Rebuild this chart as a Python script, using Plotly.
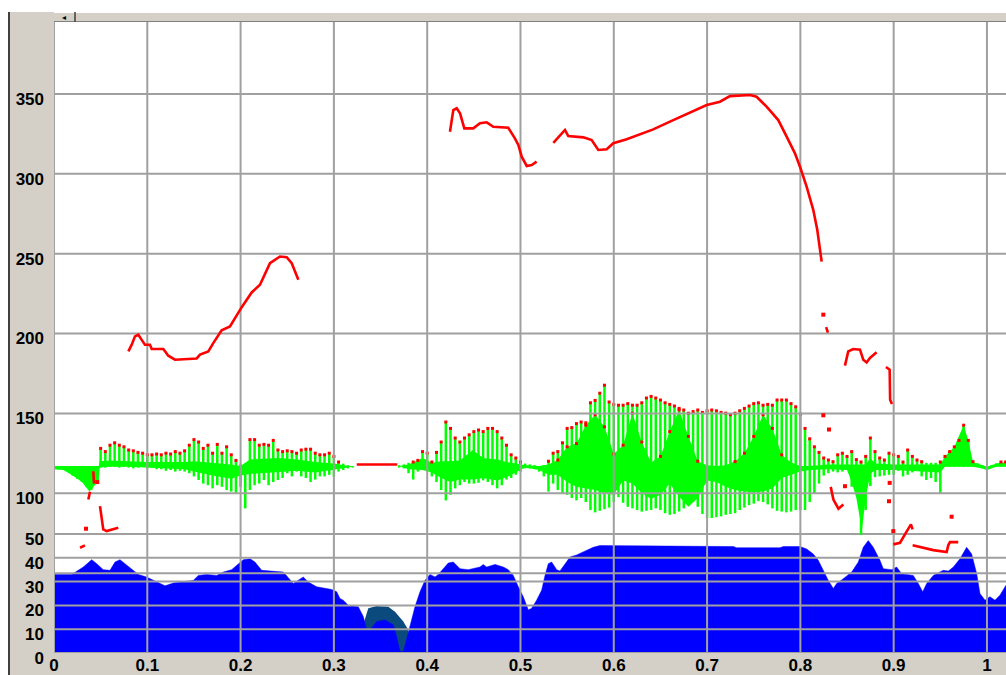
import plotly.graph_objects as go

# ---------------- data ----------------
x_ticks = [0, 0.1, 0.2, 0.3, 0.4, 0.5, 0.6, 0.7, 0.8, 0.9, 1.0]
x_ticktext = ["0", "0.1", "0.2", "0.3", "0.4", "0.5", "0.6", "0.7", "0.8", "0.9", "1"]
pitch_ticks = [50, 100, 150, 200, 250, 300, 350]
pitch_ticktext = ["", "100", "150", "200", "250", "300", "350"]
int_ticks = [0, 10, 20, 30, 40, 50]
int_ticktext = ["0", "10", "20", "30", "40", "50"]

# intensity (dB), blue area
int_t = [0.0, 0.019, 0.0314, 0.0404, 0.0458, 0.0528, 0.06, 0.0654, 0.0707, 0.076, 0.0833, 0.0904,
         0.0993, 0.11, 0.119, 0.128, 0.1493, 0.1547, 0.1636, 0.1744, 0.1815, 0.1904, 0.1976, 0.2029,
         0.2101, 0.2154, 0.2226, 0.2458, 0.2565, 0.2672, 0.2726, 0.2815, 0.2976, 0.303, 0.3065, 0.31,
         0.3154, 0.3262, 0.3315, 0.3352, 0.3387, 0.3459, 0.3548, 0.3637, 0.3672, 0.3708, 0.3745,
         0.3781, 0.3816, 0.3869, 0.3923, 0.3976, 0.403, 0.4084, 0.4119, 0.4173, 0.4226, 0.428, 0.4352,
         0.444, 0.4566, 0.4601, 0.4637, 0.4727, 0.4816, 0.4869, 0.4923, 0.4977, 0.503, 0.5084, 0.512,
         0.5173, 0.5227, 0.5263, 0.5298, 0.5334, 0.5388, 0.5423, 0.5477, 0.5531, 0.5602, 0.5674, 0.578,
         0.5852, 0.6924, 0.7281, 0.7317, 0.7781, 0.7817, 0.7996, 0.8067, 0.8138, 0.8192, 0.8246, 0.8299,
         0.8353, 0.8389, 0.846, 0.855, 0.8621, 0.8674, 0.8728, 0.8781, 0.8853, 0.8889, 0.8978, 0.9032,
         0.9085, 0.921, 0.9264, 0.9311, 0.9354, 0.9425, 0.9532, 0.9586, 0.964, 0.9711, 0.9782, 0.9836,
         0.989, 0.9925, 0.9979, 1.0032, 1.0086, 1.0139, 1.0204]
int_db = [33, 33, 36.1, 39.2, 37.5, 35, 34.7, 38.2, 39.2, 37.5, 35, 33,
          31.9, 29.8, 28.2, 29.4, 30.5, 32.6, 33, 32.6, 34, 35, 37.5, 39.2,
          39.6, 38.2, 34.7, 34, 29.2, 31.9, 29.8, 27.8, 26.7, 25.7, 22.9, 22.2,
          20.1, 19.4, 15.3, 9.7, 9.7, 13.2, 13.9, 11.8, 6.9, 0.7, 0.5,
          6, 11.8, 19.4, 25.7, 30.5, 33, 31.9, 33, 35.4, 37.8, 38.2, 35.4,
          35, 36.1, 37.2, 36.1, 37.2, 36.1, 35, 32.6, 27.8, 23.6, 18.1, 18.8,
          22.2, 26.4, 32.6, 37.5, 38.2, 35, 34.4, 37.5, 40.3, 41.2, 42.4, 44.4,
          45.1, 44.7, 44.7, 44.2, 44.2, 44.7, 44.7, 43.7, 41.6, 38.9, 34.7, 30.5,
          27.1, 29.2, 31.2, 34, 38.2, 44.4, 47.2, 44.4, 38.9, 35.4, 35, 36.1,
          33.3, 32.6, 29.2, 25.7, 29.2, 32.6, 34.7, 34.4, 36.1, 39.6, 44.4, 41.6,
          33.3, 25, 22.2, 23.6, 22.2, 24.3, 28.5]

# second intensity curve (dark teal), visible only where above the blue one
int2_t = [0.329, 0.3315, 0.3369, 0.3459, 0.3583, 0.3655, 0.3744, 0.3798, 0.3816]
int2_db = [0, 12, 18.8, 19.7, 19.4, 17.3, 13.2, 9.7, 0]

# waveform: outer spike tips, one per 0.005 s (relative amplitude)
spike_up = [0, 0, 0, 0, 0, 0, 0, 0, 0, 0,
            0.22, 0.18, 0.26, 0.29, 0.26, 0.24, 0.2, 0.19, 0.17, 0.16,
            0.14, 0.14, 0.15, 0.14, 0.16, 0.15, 0.18, 0.16, 0.19, 0.26,
            0.33, 0.3, 0.22, 0.26, 0.16, 0.27, 0.16, 0.24, 0.14, 0.07,
            0.03, 0.03, 0.33, 0.33, 0.26, 0.27, 0.26, 0.32, 0.2, 0.18,
            0.19, 0.18, 0.16, 0.2, 0.21, 0.21, 0.16, 0.14, 0.14, 0.16,
            0.12, 0.05, 0.03, 0.01, 0, 0, 0, 0, 0, 0,
            0, 0, 0, 0, 0.01, 0.02, 0.04, 0.05, 0.07, 0.18,
            0.16, 0.05, 0.17, 0.3, 0.55, 0.47, 0.35, 0.3, 0.35, 0.39,
            0.43, 0.45, 0.43, 0.47, 0.47, 0.43, 0.35, 0.26, 0.14, 0.1,
            0.05, 0.03, 0.02, 0.01, 0, 0.01, 0.06, 0.16, 0.18, 0.29,
            0.47, 0.48, 0.53, 0.55, 0.54, 0.79, 0.82, 0.91, 1.01, 0.8,
            0.77, 0.76, 0.76, 0.78, 0.76, 0.76, 0.79, 0.85, 0.87, 0.85,
            0.825, 0.79, 0.77, 0.75, 0.72, 0.7, 0.66, 0.68, 0.7, 0.67,
            0.69, 0.7, 0.69, 0.67, 0.66, 0.64, 0.66, 0.69, 0.72, 0.75,
            0.78, 0.79, 0.76, 0.77, 0.76, 0.825, 0.825, 0.825, 0.78, 0.74,
            0.65, 0.47, 0.34, 0.24, 0.17, 0.1, 0.075, 0.054, 0.14, 0.16,
            0.12, 0.18, 0.08, 0.05, 0.12, 0.35, 0.18, 0.1, 0.075, 0.16,
            0.14, 0.12, 0.05, 0.2, 0.12, 0.075, 0.054, 0.04, 0.04, 0.04,
            0.05, 0.12, 0.18, 0.24, 0.32, 0.51, 0.32, 0.054, 0.033, 0.01,
            -0.01, 0.01, 0.033, 0.05, 0.05]
spike_lo = [-0.04, -0.04, -0.05, -0.07, -0.12, -0.16, -0.2, -0.26, -0.3, -0.22,
            -0.02, -0.02, -0.01, -0.01, -0.02, -0.01, -0.02, -0.03, -0.02, -0.01,
            -0.03, -0.02, -0.04, -0.04, -0.06, -0.05, -0.07, -0.06, -0.07, -0.09,
            -0.13, -0.175, -0.22, -0.24, -0.28, -0.24, -0.26, -0.3, -0.32, -0.34,
            -0.26, -0.53, -0.3, -0.24, -0.22, -0.175, -0.24, -0.2, -0.175, -0.15,
            -0.09, -0.13, -0.07, -0.13, -0.15, -0.2, -0.17, -0.13, -0.13, -0.11,
            -0.13, -0.07, -0.05, -0.03, -0.02, 0, 0, 0, 0, 0,
            0, 0, 0, 0, -0.02, -0.03, -0.09, -0.17, -0.07, -0.03,
            -0.07, -0.13, -0.2, -0.3, -0.43, -0.36, -0.28, -0.24, -0.2, -0.22,
            -0.22, -0.21, -0.18, -0.2, -0.24, -0.28, -0.24, -0.17, -0.15, -0.11,
            -0.07, -0.03, -0.03, -0.04, -0.07, -0.13, -0.32, -0.22, -0.3, -0.34,
            -0.36, -0.4, -0.43, -0.4, -0.45, -0.55, -0.58, -0.56, -0.54, -0.52,
            -0.45, -0.39, -0.46, -0.51, -0.53, -0.55, -0.57, -0.56, -0.55, -0.53,
            -0.55, -0.59, -0.61, -0.6, -0.57, -0.53, -0.49, -0.45, -0.51, -0.6,
            -0.65, -0.65, -0.64, -0.63, -0.61, -0.6, -0.59, -0.55, -0.52, -0.49,
            -0.47, -0.44, -0.45, -0.48, -0.53, -0.56, -0.57, -0.58, -0.57, -0.55,
            -0.55, -0.55, -0.45, -0.35, -0.22, -0.12, -0.09, -0.07, -0.08, -0.07,
            -0.05, -0.26, -0.35, -0.86, -0.55, -0.25, -0.14, -0.13, -0.12, -0.11,
            -0.11, -0.06, -0.13, -0.11, -0.08, -0.05, -0.13, -0.175, -0.15, -0.2,
            -0.34, -0.01, -0.01, -0.01, -0.01, -0.01, -0.01, -0.01, -0.01, -0.03,
            -0.05, -0.02, -0.01, -0.01, -0.01]
spike_step = 0.005

# waveform: solid inner body (top / bottom)
body_t = [0.0, 0.01, 0.02, 0.03, 0.038, 0.044, 0.048, 0.049, 0.06, 0.08, 0.1, 0.12, 0.14, 0.15,
          0.17, 0.19, 0.2, 0.21, 0.24, 0.26, 0.28, 0.3, 0.315, 0.322, 0.37, 0.38, 0.395, 0.405,
          0.415, 0.425, 0.435, 0.449, 0.46, 0.475, 0.485, 0.495, 0.505, 0.52, 0.53, 0.54, 0.55,
          0.56, 0.57, 0.58, 0.59, 0.6, 0.61, 0.62, 0.63, 0.64, 0.65, 0.66, 0.67, 0.68, 0.69, 0.7,
          0.71, 0.72, 0.73, 0.74, 0.75, 0.76, 0.77, 0.78, 0.79, 0.8, 0.81, 0.83, 0.85, 0.855,
          0.86, 0.866, 0.87, 0.875, 0.88, 0.9, 0.95, 0.955, 0.965, 0.975, 0.98, 0.985, 0.995,
          1.0, 1.01, 1.02]
body_top = [0, 0, 0, 0, 0, 0, 0, 0.06, 0.07, 0.06, 0.05, 0.05, 0.05, 0.06,
            0.04, 0.02, 0.0, 0.08, 0.1, 0.08, 0.05, 0.03, 0.0, 0, 0, 0.02, 0.1, 0.04,
            0.06, 0.06, 0.07, 0.2, 0.1, 0.08, 0.05, 0.03, 0.01, 0.0, 0.02, 0.075, 0.24,
            0.28, 0.51, 0.64, 0.49, 0.15, 0.26, 0.66, 0.3, 0.045, 0.12, 0.43, 0.7, 0.37, 0.06, 0.01,
            0.0, 0.01, 0.055, 0.16, 0.37, 0.64, 0.47, 0.14, 0.045, 0.0, 0.0, 0.02, 0.02, 0.02,
            0.02, 0.02, 0.02, 0.1, 0.03, 0.02, 0.02, 0.12, 0.24, 0.51, 0.32, 0.05, 0.01,
            -0.01, 0.03, 0.05]
body_bot = [-0.04, -0.05, -0.12, -0.2, -0.32, -0.24, -0.18, -0.02, -0.01, -0.01, -0.02, -0.03, -0.04, -0.07,
            -0.12, -0.16, -0.12, -0.1, -0.08, -0.06, -0.08, -0.05, -0.02, 0, 0, -0.04, -0.05, -0.08,
            -0.15, -0.2, -0.17, -0.17, -0.15, -0.18, -0.14, -0.08, -0.02, -0.05, -0.11, -0.11, -0.2,
            -0.26, -0.28, -0.3, -0.34, -0.36, -0.18, -0.22, -0.34, -0.41, -0.36, -0.22, -0.38, -0.51, -0.4, -0.18,
            -0.2, -0.26, -0.3, -0.32, -0.33, -0.32, -0.28, -0.15, -0.11, -0.07, -0.05, -0.04, -0.05, -0.2,
            -0.4, -0.8, -0.4, -0.1, -0.05, -0.05, -0.08, -0.01, -0.01, -0.01, -0.01, -0.01, -0.03,
            -0.05, -0.01, -0.01]

# pitch track (Hz), segments separated by None
pitch_t = [0.0279, 0.0332, None,
           0.0368, 0.0386, None, 0.0421, 0.0429, None,
           0.0493, 0.0511, 0.0528, 0.0565, 0.0618, 0.0689, None,
           0.0797, 0.0833, 0.0868, 0.0904, 0.094, 0.0975, 0.1029, 0.1047, 0.1172, 0.1225, 0.1297,
           0.1529, 0.1565, 0.1654, 0.1707, 0.1797, 0.1886, 0.1958, 0.2012, 0.2119, 0.2208, 0.2315,
           0.2422, 0.2494, 0.2548, 0.2619, None,
           0.3245, 0.368, None,
           0.4244, 0.428, 0.4316, 0.4352, 0.4398, 0.4494, 0.4566, 0.4638, 0.4709, 0.4869, 0.494,
           0.4977, 0.5013, 0.5067, 0.512, 0.5173, None,
           0.5352, 0.5423, 0.5477, 0.5512, 0.5602, 0.5674, 0.5763, 0.5834, 0.5924, 0.5995, 0.6138,
           0.6281, 0.6423, 0.6602, 0.6781, 0.6996, 0.7138, 0.7245, 0.746, 0.7531, 0.7638, 0.7763,
           0.7853, 0.7942, 0.7996, 0.8067, 0.8138, 0.8181, 0.8228, None,
           0.8276, 0.8295, None,
           0.8325, 0.8354, 0.8408, 0.8461, None,
           0.8478, 0.8513, 0.8567, 0.8639, 0.8674, 0.871, 0.8746, 0.8817, None,
           0.8917, 0.8957, 0.8962, 0.8981, None,
           0.8996, 0.9068, 0.9121, 0.9167, 0.9185, 0.9203, None,
           0.9203, 0.930, 0.9425, 0.9568, 0.9585, 0.9603, 0.9692]
pitch_hz = [65.9, 67.4, None,
            96.1, 101, None, 113.8, 106, None,
            91.9, 83.6, 77.4, 76.3, 77.4, 78.4, None,
            188.8, 193, 198.2, 199.2, 196, 193, 193, 190.3, 190.3, 186.1, 183.6,
            184.4, 186.8, 188.8, 194, 202, 204.4, 211.8, 216.5, 225.7, 230.5, 244,
            248.2, 247.8, 244, 233.6, None,
            118, 118, None,
            326.3, 339.9, 341, 337.8, 328.4, 328.4, 331.6, 332.2, 329.4, 328.8, 322.2,
            318, 310.7, 304.9, 305.5, 307.6, None,
            319.4, 324.3, 327.4, 323.6, 323.2, 322.8, 321.1, 314.9, 315.3, 319.1, 321.6,
            324.9, 327.8, 332.6, 337.2, 343, 345.1, 348.6, 349.3, 348.2, 342, 333.6,
            323.2, 312.8, 304.4, 292, 277.4, 264.9, 245, None,
            204, 200.5, None,
            104, 96, 90.3, 93, None,
            179.9, 188.8, 190.3, 189.9, 183.6, 181.9, 184.7, 188.2, None,
            179, 177.4, 158.6, 155.9, None,
            68, 69, 74.3, 79.4, 80.5, 77.4, None,
            67.4, 65.9, 64.4, 63.2, 67.4, 69.4, 69.4]
pdot_t = [0.0343, 0.0464, 0.8246, 0.8246, 0.8307, 0.8478, 0.8950, 0.8957, 0.8996, 0.9621]
pdot_hz = [77.8, 107, 211.8, 148.8, 139.9, 104.4, 95, 106.5, 76.3, 85.3]

# ---------------- geometry ----------------
W, H = 1006, 675
ML, MR, MT, MB = 54, 0, 22, 22
X_RANGE = [0, 1.0204]
INT_RANGE = [0, 265]
WAVE_RANGE = [-2.3375, 5.55]
PITCH_RANGE = [0, 395]

RED = "#ff0000"
GREEN = "#00ff00"
BLUE = "#0000ff"
TEAL = "#0a4a7d"
GRID = "#a0a0a0"
PANEL = "#d4d0c8"

fig = go.Figure()

# --- intensity layer (bottom subplot) ---
fig.add_trace(go.Scatter(x=int2_t, y=int2_db, mode="lines", line=dict(width=0, color=TEAL),
                         fill="tozeroy", fillcolor=TEAL, hoverinfo="skip", yaxis="y"))
fig.add_trace(go.Scatter(x=int_t, y=int_db, mode="lines", line=dict(width=0.5, color=BLUE),
                         fill="tozeroy", fillcolor=BLUE, hoverinfo="skip", yaxis="y"))
gx, gy = [], []
for v in int_ticks:
    gx += [X_RANGE[0], X_RANGE[1], None]
    gy += [v, v, None]
fig.add_trace(go.Scatter(x=gx, y=gy, mode="lines", line=dict(width=2, color=GRID),
                         hoverinfo="skip", yaxis="y"))

# --- waveform layer ---
fig.add_trace(go.Scatter(x=body_t, y=body_bot, mode="lines", line=dict(width=0, color=GREEN),
                         hoverinfo="skip", yaxis="y2"))
fig.add_trace(go.Scatter(x=body_t, y=body_top, mode="lines", line=dict(width=0, color=GREEN),
                         fill="tonexty", fillcolor=GREEN, hoverinfo="skip", yaxis="y2"))
spike_t = [round(spike_step * i, 4) for i in range(len(spike_up))]
sx, sy = [], []
for t, u, l in zip(spike_t, spike_up, spike_lo):
    sx += [t, t, None]
    sy += [l, u, None]
fig.add_trace(go.Scatter(x=sx, y=sy, mode="lines", line=dict(width=2.5, color=GREEN),
                         hoverinfo="skip", yaxis="y2"))
dx = [t for t, u in zip(spike_t, spike_up) if u >= 0.05]
dy = [u for u in spike_up if u >= 0.05]
bx = [t for t, v in zip(body_t, body_top) if 0.53 <= t <= 0.8 and v >= 0.05]
by = [v for t, v in zip(body_t, body_top) if 0.53 <= t <= 0.8 and v >= 0.05]
fig.add_trace(go.Scatter(x=dx + bx, y=dy + by, mode="markers",
                         marker=dict(size=3, color=RED, symbol="square", line=dict(width=0)),
                         hoverinfo="skip", yaxis="y2"))

# --- pitch layer (top subplot): grid lines then pitch ---
gx, gy = [], []
for v in pitch_ticks:
    gx += [X_RANGE[0], X_RANGE[1], None]
    gy += [v, v, None]
for v in x_ticks:
    gx += [v, v, None]
    gy += [PITCH_RANGE[0], PITCH_RANGE[1], None]
fig.add_trace(go.Scatter(x=gx, y=gy, mode="lines", line=dict(width=2, color=GRID),
                         hoverinfo="skip", yaxis="y3"))
fig.add_trace(go.Scatter(x=pitch_t, y=pitch_hz, mode="lines", connectgaps=False,
                         line=dict(width=2.6, color=RED), hoverinfo="skip", yaxis="y3"))
fig.add_trace(go.Scatter(x=pdot_t, y=pdot_hz, mode="markers",
                         marker=dict(size=4, color=RED, symbol="square", line=dict(width=0)),
                         hoverinfo="skip", yaxis="y3"))

tickfont = dict(family="Liberation Sans, Arial, sans-serif", size=17, color="black", weight="bold")

fig.update_layout(
    width=W, height=H,
    margin=dict(l=ML, r=MR, t=MT, b=MB, pad=0, autoexpand=False),
    paper_bgcolor=PANEL, plot_bgcolor="white",
    showlegend=False,
    xaxis=dict(range=X_RANGE, tickvals=x_ticks, ticktext=x_ticktext, showgrid=False,
               zeroline=False, showline=False, ticks="", tickfont=tickfont,
               ticklabelstandoff=0, fixedrange=True),
    yaxis=dict(range=INT_RANGE, tickvals=int_ticks, ticktext=int_ticktext, showgrid=False,
               zeroline=False, showline=False, ticks="", tickfont=tickfont,
               ticklabelshift=5, ticklabelstandoff=9, fixedrange=True),
    yaxis2=dict(range=WAVE_RANGE, overlaying="y", visible=False, fixedrange=True),
    yaxis3=dict(range=PITCH_RANGE, overlaying="y", side="left", tickvals=pitch_ticks,
                ticktext=pitch_ticktext, showgrid=False, zeroline=False, showline=False,
                ticks="", tickfont=tickfont, ticklabelshift=5, ticklabelstandoff=9,
                fixedrange=True),
)


# window decoration (pixel positions converted to paper coordinates)
def px(x):
    return (x - ML) / (W - ML - MR)


def py(y):
    return (H - MB - y) / (H - MT - MB)


shapes = [
    dict(type="rect", xref="paper", yref="paper", x0=px(0), x1=px(W), y0=py(0), y1=py(12),
         fillcolor="white", line=dict(width=0), layer="above"),
    dict(type="rect", xref="paper", yref="paper", x0=px(0), x1=px(8), y0=py(0), y1=py(H),
         fillcolor="white", line=dict(width=0), layer="above"),
    dict(type="line", xref="paper", yref="paper", x0=px(9), x1=px(9), y0=py(12), y1=py(H),
         line=dict(width=2, color="#404040"), layer="above"),
    dict(type="line", xref="paper", yref="paper", x0=px(54), x1=px(W), y0=py(21.5), y1=py(21.5),
         line=dict(width=1, color="#808080"), layer="above"),
    dict(type="line", xref="paper", yref="paper", x0=px(54), x1=px(W), y0=py(12.5), y1=py(12.5),
         line=dict(width=1, color="#ffffff"), layer="above"),
    dict(type="line", xref="paper", yref="paper", x0=px(75), x1=px(75), y0=py(12), y1=py(22),
         line=dict(width=1.5, color="#404040"), layer="above"),
]
fig.update_layout(shapes=shapes)
fig.add_annotation(xref="paper", yref="paper", x=px(64), y=py(16.5), text="◂", showarrow=False,
                   font=dict(size=8, color="black"), xanchor="center", yanchor="middle")

fig.write_html("out.html")
